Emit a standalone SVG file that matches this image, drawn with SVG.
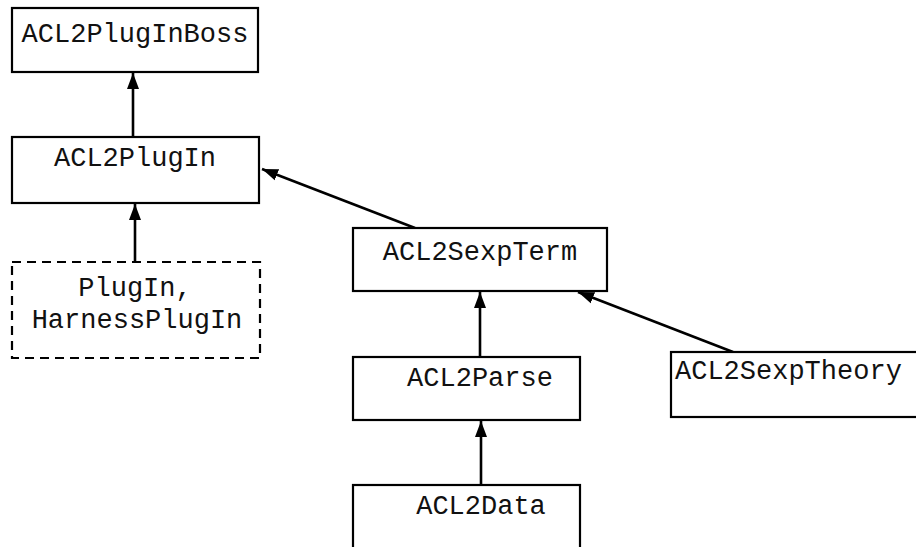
<svg xmlns="http://www.w3.org/2000/svg" width="916" height="547" viewBox="0 0 916 547">
<style>
.box{fill:#fff;stroke:#000;stroke-width:2.2}
.dash{fill:#fff;stroke:#000;stroke-width:2.2;stroke-dasharray:9 6}
.lbl{font-family:"Liberation Mono","Courier New",monospace;font-size:27px;fill:#111;text-anchor:middle}
.edge{stroke:#000;stroke-width:2.6;fill:none;marker-end:url(#ah)}
</style>
<defs>
<marker id="ah" markerUnits="userSpaceOnUse" markerWidth="18" markerHeight="14" refX="16" refY="6" orient="auto" viewBox="0 0 18 12">
<path d="M0,0 L16,6 L0,12 Z" fill="#000"/>
</marker>
</defs>
<rect width="916" height="547" fill="#fff"/>
<g id="connectors">
<line class="edge" x1="133" y1="137" x2="133" y2="73"/>
<line class="edge" x1="135" y1="262" x2="135" y2="204"/>
<line class="edge" x1="415" y1="228" x2="262" y2="169"/>
<line class="edge" x1="480" y1="357" x2="480" y2="292"/>
<line class="edge" x1="481" y1="485" x2="481" y2="421"/>
<line class="edge" x1="733" y1="352" x2="578" y2="292"/>
</g>
<g id="ACL2PlugInBoss">
<rect class="box" x="12" y="8" width="246" height="64"/>
<text class="lbl" x="135" y="42">ACL2PlugInBoss</text>
</g>
<g id="ACL2PlugIn">
<rect class="box" x="12" y="137" width="247" height="66"/>
<text class="lbl" x="135" y="166">ACL2PlugIn</text>
</g>
<g id="PlugIn">
<rect class="dash" x="12" y="262" width="248" height="96"/>
<text class="lbl" x="135" y="296">PlugIn,</text>
<text class="lbl" x="137" y="328">HarnessPlugIn</text>
</g>
<g id="ACL2SexpTerm">
<rect class="box" x="353" y="228" width="254" height="63"/>
<text class="lbl" x="480" y="260">ACL2SexpTerm</text>
</g>
<g id="ACL2Parse">
<rect class="box" x="353" y="357" width="227" height="63"/>
<text class="lbl" x="480" y="386">ACL2Parse</text>
</g>
<g id="ACL2Data">
<rect class="box" x="353" y="485" width="227" height="80"/>
<text class="lbl" x="481" y="514">ACL2Data</text>
</g>
<g id="ACL2SexpTheory">
<rect class="box" x="671" y="352" width="260" height="65"/>
<text class="lbl" x="675" y="379" style="text-anchor:start">ACL2SexpTheory</text>
</g>
</svg>
